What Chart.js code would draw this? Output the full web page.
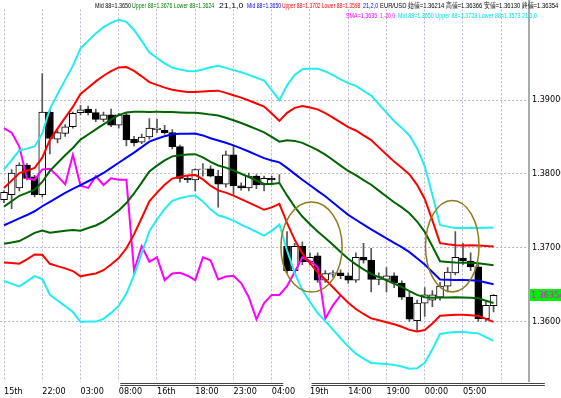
<!DOCTYPE html>
<html>
<head>
<meta charset="utf-8">
<script src="https://cdn.jsdelivr.net/npm/chart.js@4"></script>
<style>
html, body { margin: 0; padding: 0; background: #fff; }
#wrap { position: relative; width: 561px; height: 398px; overflow: hidden; }
#wrap canvas { position: absolute; left: 0; top: 0; }
.lg { position: absolute; font-family: "Liberation Sans", Arial, sans-serif; font-size: 8px; line-height: 9px; white-space: nowrap; transform-origin: 0 0; }
</style>
</head>
<body>
<div id="wrap">
  <canvas id="chart" width="561" height="398"></canvas>
</div>
<script>
// hourly candles, EUR/USD
const tickLabels = ['15th', '22:00', '03:00', '08:00', '16th', '18:00', '23:00', '04:00', '19th', '14:00', '19:00', '00:00', '05:00'];

const opens = [1.3765, 1.3772, 1.3781, 1.3812, 1.3796, 1.3772, 1.3884, 1.3847, 1.3855, 1.3864,
  1.3883, 1.3888, 1.3883, 1.3874, 1.3880, 1.3866, 1.3880, 1.3847, 1.3843, 1.3850,
  1.3860, 1.3859, 1.3856, 1.3837, 1.3794, 1.3792, 1.3806, 1.3807, 1.3797, 1.3786,
  1.3826, 1.3784, 1.3781, 1.3797, 1.3785, 1.3794, 1.3792, 1.3702, 1.3669, 1.3702,
  1.3681, 1.3689, 1.3656, 1.3664, 1.3666, 1.3662, 1.3656, 1.3687, 1.3683, 1.3657,
  1.3657, 1.3662, 1.3652, 1.3633, 1.3601, 1.3625, 1.3629, 1.3633, 1.3648, 1.3666,
  1.3686, 1.3682, 1.3674, 1.3604, 1.36214];
const highs = [1.3777, 1.3806, 1.3815, 1.3814, 1.3798, 1.3936, 1.3887, 1.3859, 1.3867, 1.3884,
  1.3893, 1.3892, 1.3888, 1.3884, 1.3888, 1.3882, 1.3883, 1.3851, 1.3854, 1.3875,
  1.3874, 1.3866, 1.3860, 1.3839, 1.3798, 1.3807, 1.3814, 1.3811, 1.3805, 1.3831,
  1.3838, 1.3788, 1.3801, 1.3799, 1.3797, 1.3797, 1.3799, 1.3722, 1.3706, 1.3708,
  1.3693, 1.3693, 1.3669, 1.3669, 1.3670, 1.3666, 1.3693, 1.3706, 1.3699, 1.3666,
  1.3673, 1.3666, 1.3655, 1.3640, 1.3629, 1.3646, 1.3642, 1.3653, 1.3673, 1.3722,
  1.3706, 1.3693, 1.3677, 1.3627, 1.36366];
const lows = [1.3761, 1.3753, 1.3777, 1.3792, 1.3769, 1.3769, 1.3827, 1.3842, 1.3851, 1.3862,
  1.3880, 1.3880, 1.3871, 1.3871, 1.3864, 1.3862, 1.3838, 1.3838, 1.3841, 1.3847,
  1.3856, 1.3854, 1.3834, 1.3789, 1.3788, 1.3777, 1.3797, 1.3796, 1.3755, 1.3782,
  1.3772, 1.3778, 1.3777, 1.3780, 1.3777, 1.3788, 1.3789, 1.3666, 1.3666, 1.3677,
  1.3677, 1.3653, 1.3653, 1.3660, 1.3658, 1.3652, 1.3653, 1.3679, 1.3640, 1.3650,
  1.3640, 1.3646, 1.3630, 1.3600, 1.3588, 1.3607, 1.3620, 1.3629, 1.3640, 1.3663,
  1.3677, 1.3669, 1.3600, 1.3600, 1.36130];
const closes = [1.3775, 1.3801, 1.3812, 1.3794, 1.3772, 1.3884, 1.3848, 1.3856, 1.3864, 1.3882,
  1.3887, 1.3883, 1.3874, 1.3880, 1.3866, 1.3880, 1.3846, 1.3842, 1.3850, 1.3862,
  1.3862, 1.3856, 1.3837, 1.3794, 1.3792, 1.3806, 1.3807, 1.3797, 1.3786, 1.3826,
  1.3784, 1.3781, 1.3797, 1.3785, 1.3794, 1.3792, 1.3792, 1.3669, 1.3702, 1.3681,
  1.3687, 1.3656, 1.3665, 1.3666, 1.3662, 1.3656, 1.3687, 1.3683, 1.3657, 1.3661,
  1.3662, 1.3652, 1.3633, 1.3603, 1.3625, 1.3636, 1.3636, 1.3648, 1.3667, 1.3687,
  1.3682, 1.3674, 1.3604, 1.3622, 1.36354];

// Bollinger(21): middle line and one standard deviation (in pips)
const bbMid = [1.37305, 1.37351, 1.37397, 1.37443, 1.37494, 1.37562, 1.37622, 1.37682, 1.37742, 1.37796,
  1.37848, 1.37901, 1.37952, 1.38013, 1.38082, 1.38152, 1.38220, 1.38289, 1.38363, 1.38437,
  1.38477, 1.38512, 1.38539, 1.38543, 1.38545, 1.38549, 1.38522, 1.38483, 1.38453, 1.38423,
  1.38387, 1.38346, 1.38304, 1.38259, 1.38214, 1.38183, 1.38157, 1.38082, 1.38001, 1.37922,
  1.37846, 1.37771, 1.37697, 1.37614, 1.37528, 1.37445, 1.37379, 1.37312, 1.37250, 1.37188,
  1.37127, 1.37065, 1.37007, 1.36940, 1.36858, 1.36772, 1.36672, 1.36570, 1.36566, 1.36563,
  1.36561, 1.36558, 1.36553, 1.36529, 1.36506];
const bbSigma = [25.2, 27.9, 30.7, 30.0, 29.3, 32.9, 42.0, 46.6, 51.1, 55.6,
  61.8, 63.4, 65.1, 65.9, 65.5, 64.6, 61.4, 55.4, 48.0, 40.4,
  36.5, 32.9, 30.1, 29.1, 28.3, 28.1, 29.8, 32.1, 33.8, 33.8,
  34.0, 34.4, 34.6, 34.8, 35.0, 31.8, 28.1, 37.3, 44.7, 49.9,
  52.7, 55.2, 56.4, 57.5, 58.5, 59.5, 60.5, 60.5, 60.4, 58.6,
  56.8, 55.1, 53.9, 52.7, 49.7, 44.4, 34.9, 24.6, 24.0, 23.5,
  23.5, 23.7, 23.8, 24.7, 25.6];

const lagShift = 20;   // SMA(1) shifted back 20 bars
const yTicks = [1.36, 1.37, 1.38, 1.39];

// circled areas: centre (bar index, price) and radii (bars, price)
const circles = [
  { k: 40.2, v: 1.3701, rk: 4.0, rv: 0.0061 },
  { k: 58.6, v: 1.3702, rk: 3.5, rv: 0.0062 }
];
// double line under the time axis, in bar units
const sepSpans = [[15.2, 36.5], [40.2, 70.7]];

const pip = 0.0001;
const slots = 69;
const n = closes.length;
const labels = Array.from({ length: slots }, (_, i) => i);
const fontFam = '"Liberation Sans Narrow", "DejaVu Sans Condensed", "Liberation Sans", sans-serif';

function band(m) {
  return bbMid.map((v, i) => v + m * bbSigma[i] * pip);
}

function lineSet(data, color, width) {
  return {
    type: 'line', data: data, borderColor: color, borderWidth: width || 2,
    pointRadius: 0, tension: 0, fill: false, order: 0
  };
}

const extras = {
  id: 'extras',
  afterDatasetsDraw(chart) {
    const ctx = chart.ctx;
    const x = chart.scales.x, y = chart.scales.y;
    const step = x.getPixelForValue(1) - x.getPixelForValue(0);
    ctx.save();
    ctx.strokeStyle = '#8c7b1c';
    ctx.lineWidth = 1.5;
    circles.forEach(c => {
      const cx = x.getPixelForValue(c.k);
      const cy = y.getPixelForValue(c.v);
      const ry = Math.abs(y.getPixelForValue(c.v + c.rv) - cy);
      ctx.beginPath();
      ctx.ellipse(cx, cy, c.rk * step, ry, 0, 0, Math.PI * 2);
      ctx.stroke();
    });
    ctx.restore();
  },
  afterDraw(chart) {
    const ctx = chart.ctx;
    const area = chart.chartArea;
    const x = chart.scales.x, y = chart.scales.y;
    ctx.save();
    // price axis line
    ctx.strokeStyle = '#a4acac';
    ctx.lineWidth = 2;
    ctx.beginPath();
    ctx.moveTo(area.right + 1, 0);
    ctx.lineTo(area.right + 1, area.bottom);
    ctx.stroke();
    // axis separator lines
    ctx.strokeStyle = '#444';
    ctx.lineWidth = 1;
    sepSpans.forEach(s => {
      const x0 = x.getPixelForValue(s[0]), x1 = x.getPixelForValue(s[1]);
      [area.bottom + 1.5, area.bottom + 3.5].forEach(py => {
        ctx.beginPath();
        ctx.moveTo(x0, py);
        ctx.lineTo(x1, py);
        ctx.stroke();
      });
    });
    // last price tag
    const last = closes[n - 1];
    const py = Math.round(y.getPixelForValue(last));
    ctx.fillStyle = '#00ee00';
    ctx.fillRect(area.right + 2, py - 6, 31, 12);
    ctx.fillStyle = '#ff00ff';
    ctx.font = '9px ' + fontFam;
    ctx.textBaseline = 'middle';
    ctx.fillText(last.toFixed(5), area.right + 3, py + 1);
    ctx.restore();
  }
};

new Chart(document.getElementById('chart'), {
  type: 'bar',
  data: {
    labels: labels,
    datasets: [
      lineSet(band(3), '#22eef0'),
      lineSet(band(-3), '#22eef0'),
      lineSet(band(2), '#ff0000'),
      lineSet(band(-2), '#ff0000'),
      lineSet(band(1), '#006400'),
      lineSet(band(-1), '#006400'),
      lineSet(bbMid, '#0000ff'),
      lineSet(closes.slice(lagShift), '#ff00ff'),
      {
        type: 'bar',
        data: opens.map((o, i) => [o, closes[i]]),
        backgroundColor: opens.map((o, i) => closes[i] >= o ? '#ffffff' : '#000000'),
        borderColor: '#000',
        borderWidth: 1,
        borderSkipped: false,
        barThickness: 7,
        grouped: false,
        order: 1
      },
      {
        type: 'bar',
        data: lows.map((l, i) => [l, highs[i]]),
        backgroundColor: '#555',
        barThickness: 1,
        grouped: false,
        order: 2
      }
    ]
  },
  options: {
    responsive: false,
    animation: false,
    devicePixelRatio: 1,
    layout: { padding: 0 },
    plugins: { legend: { display: false }, tooltip: { enabled: false } },
    scales: {
      x: {
        type: 'category',
        offset: true,
        grid: {
          offset: false,
          drawTicks: false,
          color: c => (c.index % 5 === 0 ? '#c0b4cc' : 'rgba(0,0,0,0)')
        },
        border: { display: false, dash: [2, 2] },
        ticks: {
          autoSkip: false,
          maxRotation: 0,
          align: 'start',
          padding: 4,
          color: '#000',
          font: { family: fontFam, size: 9 },
          callback: (v, i) => (i % 5 === 0 ? (tickLabels[i / 5] || '') : '')
        },
        afterFit: s => { s.height = 16; }
      },
      y: {
        position: 'right',
        min: 1.3518,
        max: 1.4023,
        afterBuildTicks: s => { s.ticks = yTicks.map(v => ({ value: v })); },
        grid: { drawTicks: false, color: '#b4b4c4' },
        border: { display: false, dash: [2, 2] },
        ticks: {
          padding: 4,
          color: '#000',
          font: { family: fontFam, size: 9 },
          callback: v => v.toFixed(5)
        },
        afterFit: s => { s.width = 33; }
      }
    }
  },
  plugins: [extras]
});

// indicator captions along the top
const captions = [
  { t: 'Mid 88=1.3650', c: '#000', x: 95, y: 1, w: 36 },
  { t: 'Upper 88=1.3676 Lower 88=1.3624', c: '#008000', x: 132, y: 1, w: 82 },
  { t: '21,1,0', c: '#000', x: 219, y: 1, w: 24 },
  { t: 'Mid 88=1.3650', c: '#0000ff', x: 247, y: 1, w: 34 },
  { t: 'Upper 88=1.3702 Lower 88=1.3598', c: '#ff0000', x: 282, y: 1, w: 78 },
  { t: '21,2,0', c: '#0000ff', x: 363, y: 1, w: 15 },
  { t: 'EUR/USD 始値=1.36214 高値=1.36366 安値=1.36130 終値=1.36354', c: '#000', x: 380, y: 1, w: 178 },
  { t: 'SMA=1.3635', c: '#ff00ff', x: 346, y: 11, w: 31 },
  { t: '1,-20,0', c: '#ff00ff', x: 380, y: 11, w: 15 },
  { t: 'Mid 88=1.3650 Upper 88=1.3728 Lower 88=1.3573 21,3,0', c: '#00e0e8', x: 398, y: 11, w: 139 }
];
const wrap = document.getElementById('wrap');
captions.forEach(cap => {
  const el = document.createElement('div');
  el.className = 'lg';
  el.textContent = cap.t;
  el.style.color = cap.c;
  el.style.left = cap.x + 'px';
  el.style.top = cap.y + 'px';
  wrap.appendChild(el);
  el.style.transform = 'scaleX(' + (cap.w / el.offsetWidth) + ')';
});
</script>
</body>
</html>
